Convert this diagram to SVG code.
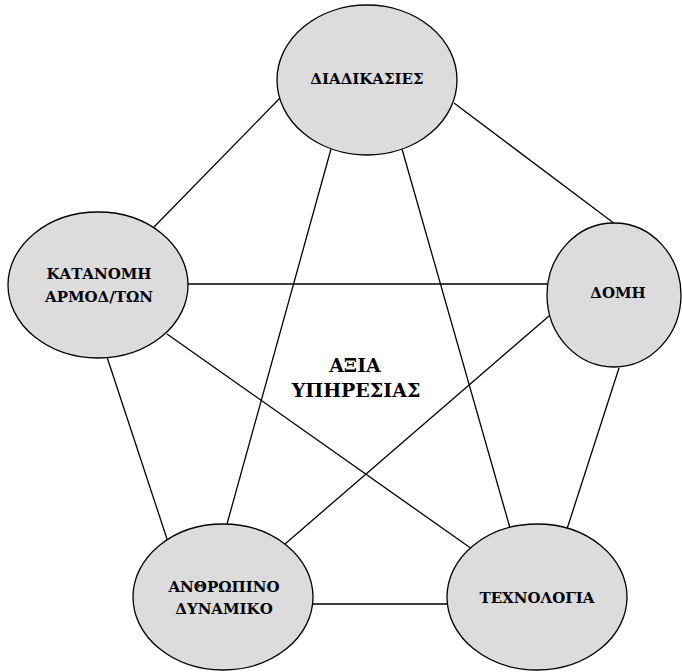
<svg xmlns="http://www.w3.org/2000/svg" width="682" height="672" viewBox="0 0 682 672">
<style>
.node{fill:#dcdcdc;stroke:#000;stroke-width:1.3}
.edge{stroke:#000;stroke-width:1.3;fill:none}
.lbl{font-family:"DejaVu Serif",serif;font-weight:bold;font-size:15px;text-anchor:middle;fill:#000}
.big{font-family:"DejaVu Serif",serif;font-weight:bold;font-size:19px;text-anchor:middle;fill:#000}
</style>
<rect width="682" height="672" fill="#fff"/>
<g id="connectors">
<line class="edge" x1="280" y1="98" x2="154" y2="227"/>
<line class="edge" x1="454" y1="103" x2="615" y2="224"/>
<line class="edge" x1="331" y1="149" x2="227" y2="524"/>
<line class="edge" x1="402" y1="149" x2="510" y2="528"/>
<line class="edge" x1="188" y1="284" x2="547" y2="284"/>
<line class="edge" x1="167" y1="334" x2="472" y2="549"/>
<line class="edge" x1="106" y1="354" x2="168" y2="542"/>
<line class="edge" x1="549" y1="316" x2="285" y2="544"/>
<line class="edge" x1="619" y1="368" x2="567" y2="529"/>
<line class="edge" x1="313" y1="604" x2="447" y2="604"/>
</g>
<g id="node-diadikasies">
<ellipse class="node" cx="367" cy="80" rx="90" ry="75"/>
<text class="lbl" x="367" y="84">ΔΙΑΔΙΚΑΣΙΕΣ</text>
</g>
<g id="node-domi">
<ellipse class="node" cx="614" cy="295" rx="67" ry="72"/>
<text class="lbl" x="618" y="298">ΔΟΜΗ</text>
</g>
<g id="node-katanomi">
<ellipse class="node" cx="98" cy="285" rx="90" ry="73"/>
<text class="lbl" x="99" y="279">ΚΑΤΑΝΟΜΗ</text>
<text class="lbl" x="99" y="302">ΑΡΜΟΔ/ΤΩΝ</text>
</g>
<g id="node-anthropino">
<ellipse class="node" cx="223" cy="597" rx="90" ry="73"/>
<text class="lbl" x="224" y="592">ΑΝΘΡΩΠΙΝΟ</text>
<text class="lbl" x="224" y="614">ΔΥΝΑΜΙΚΟ</text>
</g>
<g id="node-technologia">
<ellipse class="node" cx="537" cy="597" rx="90" ry="73"/>
<text class="lbl" x="537" y="603">ΤΕΧΝΟΛΟΓΙΑ</text>
</g>
<g id="center-label">
<text class="big" x="355" y="372">ΑΞΙΑ</text>
<text class="big" x="356" y="397">ΥΠΗΡΕΣΙΑΣ</text>
</g>
</svg>
